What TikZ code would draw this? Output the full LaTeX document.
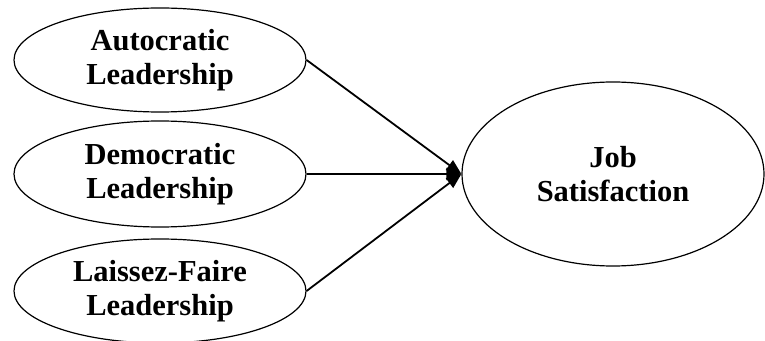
\documentclass[tikz,border=0pt]{standalone}
\usepackage{fontspec}
\setmainfont{Liberation Serif}
\usepackage{tikz}
\usetikzlibrary{shapes,arrows.meta}

\begin{document}
\begin{tikzpicture}[x=1pt, y=1pt]%
  \tikzset{normal arrow/.style={draw,-{Triangle[length=15pt,width=12pt]},line width=1.8pt,black}}
  \tikzstyle{every node}=[draw=black, ellipse, line width=1.2pt, inner sep=0pt, align=center, font=\fontsize{30.5}{34}\selectfont\bfseries]
  \useasboundingbox (0,0) rectangle (765,340);

  \node[minimum width=292pt, minimum height=104pt] at (160,280) (AL) {Autocratic\\Leadership};
  \node[minimum width=292pt, minimum height=106pt] at (160,166) (DL) {Democratic\\Leadership};
  \node[minimum width=292pt, minimum height=104pt] at (160,49) (LF) {Laissez-Faire\\Leadership};
  \node[minimum width=302pt, minimum height=184pt] at (613,166) (JS) {Job\\Satisfaction};

  \draw[normal arrow] (AL.east) -- (JS.west);
  \draw[normal arrow] (DL.east) -- (JS.west);
  \draw[normal arrow] (LF.east) -- (JS.west);
\end{tikzpicture}
\end{document}
